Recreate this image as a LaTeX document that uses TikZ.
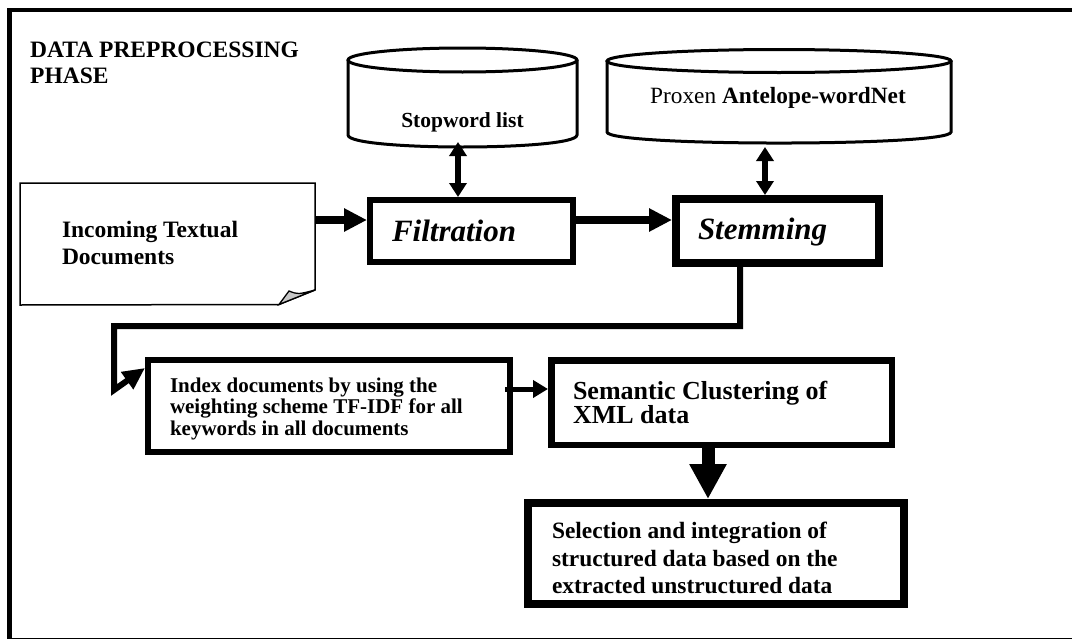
\documentclass[tikz,border=0pt]{standalone}
\usepackage{fontspec}
\setmainfont{Liberation Serif}
\usetikzlibrary{arrows.meta}
\begin{document}
\begin{tikzpicture}[x=1pt,y={(0pt,-1pt)},
  box/.style={draw, align=flush left, inner ysep=0pt},
  arr/.style={-{Triangle[length=23pt,width=22pt]}, line width=8pt},
  dblarr/.style={{Triangle[length=14pt,width=17pt]}-{Triangle[length=14pt,width=17pt]}, line width=5.5pt},
  dbline/.style={line width=3pt}
]
\useasboundingbox (0,0) rectangle (1072,640);
% outer frame
\draw[line width=5pt] (9.8,8) -- (9.8,639);
\draw[line width=3.5pt] (7.5,10) -- (1072,10);
\draw[line width=1.8pt] (9.8,638.5) -- (1072,638.5);
% title
\node[anchor=north west, align=flush left, inner sep=0pt, font=\fontsize{23.5}{26}\selectfont\bfseries] (title) at (30,41.5) {DATA PREPROCESSING\\PHASE};
% stopword cylinder
\draw[dbline] (348,60) -- (348,135) .. controls (348,151) and (577,151) .. (577,135) -- (577,60);
\draw[dbline, fill=white] (462.5,60) ellipse [x radius=114.5pt, y radius=12pt];
\node[anchor=base, inner sep=0pt, font=\fontsize{21.5}{25}\selectfont\bfseries] (stop) at (462.5,127) {Stopword list};
\coordinate (stopbot) at (458,142);
% antelope cylinder
\draw[dbline] (607,61) -- (607,132) .. controls (607,146.7) and (951,146.7) .. (951,132) -- (951,61);
\draw[dbline, fill=white] (779,61) ellipse [x radius=172pt, y radius=11.5pt];
\node[anchor=base west, inner sep=0pt, font=\fontsize{23.3}{26}\selectfont] (ante) at (650,103) {Proxen \textbf{Antelope-wordNet}};
\coordinate (antebot) at (765,147);
% incoming document
\node[align=flush left, inner ysep=0pt, inner xsep=42pt, text width=211pt, minimum height=122pt, font=\fontsize{23.5}{27}\selectfont\bfseries] (doc) at (167.5,243) {Incoming Textual\\Documents};
\draw[line width=1.5pt, line join=miter] (20,305) -- (20,183) -- (315,183) -- (315,290) -- (279,304.5) -- cycle;
\draw[line width=1.3pt, fill=black!22] (279,304.5) -- (289,291) .. controls (298,294.5) .. (315,290) -- cycle;
% process boxes
\node[box, line width=6pt, minimum height=62pt, inner xsep=22pt, text width=159pt, font=\fontsize{31}{34}\selectfont\bfseries\itshape] (filt) at (471.5,231) {Filtration};
\node[box, line width=8pt, minimum height=64pt, inner xsep=22pt, text width=159pt, font=\fontsize{31}{34}\selectfont\bfseries\itshape] (stem) at (777.5,231) {\rule{0pt}{24pt}Stemming};
\node[box, line width=6pt, minimum height=92pt, inner xsep=22pt, text width=318pt, font=\fontsize{21}{21.5}\selectfont\bfseries] (idx) at (329,406) {\rule{0pt}{20pt}Index documents by using the\\weighting scheme TF-IDF for all\\keywords in all documents};
\node[box, line width=6.5pt, minimum height=84.5pt, inner xsep=21.75pt, text width=297pt, font=\fontsize{26}{23}\selectfont\bfseries] (sem) at (721.5,402.5) {Semantic Clustering of\\XML data};
\node[box, line width=8pt, minimum height=101pt, inner xsep=24pt, text width=328pt, font=\fontsize{23.4}{27.5}\selectfont\bfseries] (sel) at (716,553.5) {\rule{0pt}{26pt}Selection and integration of\\structured data based on the\\extracted unstructured data};
% connectors
\draw[dblarr] (stopbot) -- (filt.north -| stopbot);
\draw[dblarr] (antebot) -- (stem.north -| antebot);
\draw[arr] (doc.east |- 0,220) -- (filt.west |- 0,220);
\draw[arr] (filt.east |- 0,220) -- (stem.west |- 0,220);
\coordinate (c1) at (740,326);
\coordinate (c2) at (114,326);
\coordinate (c3) at (114,390);
\draw[line width=6pt, -{Triangle[length=22pt,width=20pt]}] (stem.south -| c1) -- (c1) -- (c2) -- (c3) -- ([yshift=-11pt]idx.north west);
\draw[line width=5pt, -{Triangle[length=15pt,width=17pt]}, shorten <=-8pt] (idx.east |- 0,389) -- (sem.west |- 0,389);
\coordinate (vx) at (708,0);
\draw[line width=13pt, -{Triangle[length=35pt,width=35pt]}] (sem.south -| vx) -- (sel.north -| vx);
\end{tikzpicture}
\end{document}
